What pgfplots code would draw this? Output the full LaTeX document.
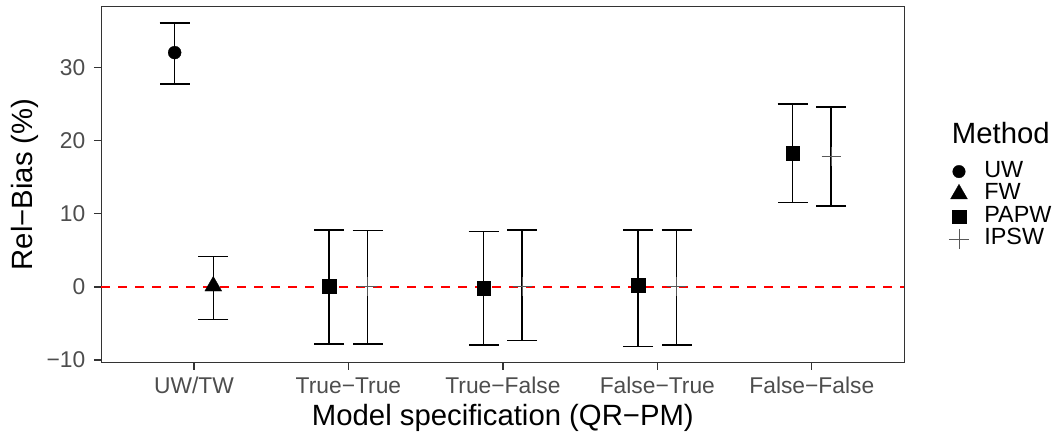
\documentclass[border=0pt]{standalone}
\usepackage{fontspec}
\setmainfont{Liberation Sans}
\usepackage{pgfplots}
\pgfplotsset{compat=1.18}
\definecolor{gray30}{HTML}{4D4D4D}
\definecolor{gray20}{HTML}{333333}
\begin{document}
\begin{tikzpicture}
\begin{axis}[
  at={(0pt,0pt)}, anchor=south west,
  scale only axis, width=803.2pt, height=355.6pt,
  xmin=-0.6, xmax=4.6, ymin=-10.3, ymax=38.27,
  xtick={0,1,2,3,4},
  xticklabels={UW/TW,True−True,True−False,False−True,False−False},
  ytick={-10,0,10,20,30},
  yticklabels={−10,0,10,20,30},
  xtick pos=left, ytick pos=left,
  tick align=outside,
  major tick length=7.5pt,
  tick style={gray20, line width=1.3pt},
  axis line style={gray20, line width=1.3pt},
  xticklabel style={font=\fontsize{22.8}{26}\selectfont, text=gray30, anchor=base, inner sep=0pt, yshift=-23.5pt},
  yticklabel style={font=\fontsize{22.8}{26}\selectfont, text=gray30, anchor=east, inner sep=0pt, xshift=-8.3pt},
  xlabel={Model specification (QR−PM)},
  ylabel={Rel−Bias (\%)},
  xlabel style={font=\fontsize{29.3}{34}\selectfont, at={(rel axis cs:0.5,0)}, anchor=base, inner sep=0pt, yshift=-63.7pt},
  ylabel style={font=\fontsize{29.3}{34}\selectfont, at={(rel axis cs:0,0.5)}, anchor=base, inner sep=0pt, yshift=68.3pt},
  clip=false,
  legend style={draw=none, fill=none, inner sep=0pt, outer sep=0pt,
    at={(rel axis cs:1.0554,0.568)}, anchor=north west,
    font=\fontsize{23.4}{26}\selectfont,
    column sep=15.3pt, row sep=0pt,
    nodes={inner sep=0pt, outer sep=0pt, text height=17pt, text depth=5.5pt}},
  legend cell align=left,
  legend image code/.code={\draw[#1] plot coordinates {(0pt,0pt)};},
]
% reference line
\addplot[red, dash pattern=on 9pt off 8pt, line width=1.3pt, forget plot] coordinates {(-0.6,0) (4.6,0)};
% UW
\addplot[only marks, black, mark=*, mark size=6.5pt, mark options={line width=0.3pt}, forget plot,
  error bars/.cd, y dir=both, y explicit,
  error bar style={line width=1.5pt, black},
  error mark options={mark size=15pt, line width=1.5pt, black, rotate=90}]
  coordinates {(-0.125,32.0) += (0,4.05) -= (0,4.27)};
% FW
\addplot[only marks, black, mark=triangle*, mark size=9.8pt, mark options={line width=0.3pt}, forget plot,
  error bars/.cd, y dir=both, y explicit,
  error bar style={line width=1.5pt, black},
  error mark options={mark size=15pt, line width=1.5pt, black, rotate=90}]
  coordinates {(0.125,0.1) += (0,4.03) -= (0,4.56)};
% PAPW
\addplot[only marks, black, mark=square*, mark size=6.8pt, mark options={line width=0.3pt}, forget plot,
  error bars/.cd, y dir=both, y explicit,
  error bar style={line width=1.5pt, black},
  error mark options={mark size=15pt, line width=1.5pt, black, rotate=90}]
  coordinates {
    (0.875,0.10) += (0,7.67) -= (0,7.90)
    (1.875,-0.19) += (0,7.73) -= (0,7.77)
    (2.875,0.27) += (0,7.50) -= (0,8.41)
    (3.875,18.28) += (0,6.72) -= (0,6.73)
  };
% IPSW
\addplot[only marks, black, mark=+, mark size=9.5pt, mark options={line width=0.7pt, black!65}, forget plot,
  error bars/.cd, y dir=both, y explicit,
  error bar style={line width=1.5pt, black},
  error mark options={mark size=15pt, line width=1.5pt, black, rotate=90}]
  coordinates {
    (1.125,0.08) += (0,7.60) -= (0,7.86)
    (2.125,0.08) += (0,7.69) -= (0,7.41)
    (3.125,0.08) += (0,7.69) -= (0,8.04)
    (4.125,17.87) += (0,6.68) -= (0,6.82)
  };
\addlegendimage{only marks, black, mark=*, mark size=6.3pt, mark options={line width=0.3pt}}
\addlegendentry{UW}
\addlegendimage{only marks, black, mark=triangle*, mark size=9.8pt, mark options={line width=0.3pt}}
\addlegendentry{FW}
\addlegendimage{only marks, black, mark=square*, mark size=6.8pt, mark options={line width=0.3pt}}
\addlegendentry{PAPW}
\addlegendimage{only marks, mark=+, mark size=10pt, mark options={line width=0.7pt, black!65}}
\addlegendentry{IPSW}
\node[anchor=base west, inner sep=0pt, font=\fontsize{29.3}{34}\selectfont] at (rel axis cs:1.0588,0.6159) {Method};
\end{axis}
\path[use as bounding box] (-101.3pt,-70.7pt) rectangle (951.7pt,362.3pt);
\end{tikzpicture}
\end{document}
